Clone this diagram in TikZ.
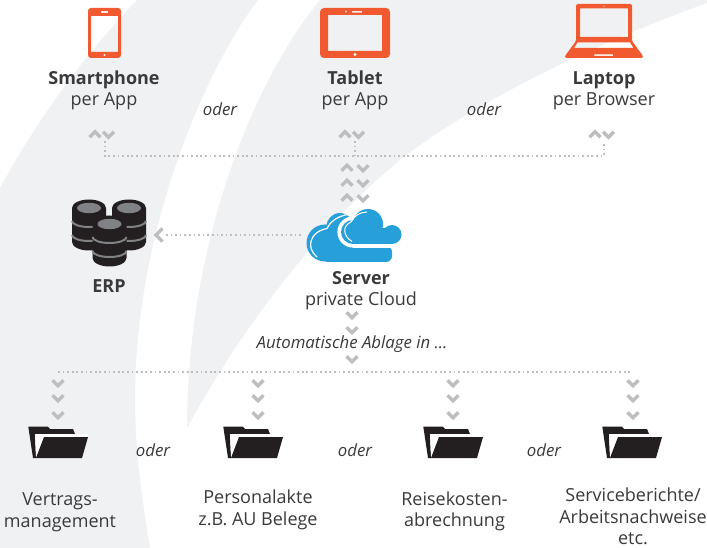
\documentclass[tikz,border=0pt]{standalone}
\usepackage{fontspec}
\setmainfont{Open Sans}
\definecolor{swoosh}{HTML}{F0F1F3}
\definecolor{devorange}{HTML}{F15A31}
\definecolor{cloudblue}{HTML}{27A0D9}
\definecolor{chevgray}{HTML}{BCBEC0}
\definecolor{dbgray}{HTML}{808285}
\definecolor{inkdark}{HTML}{231F20}
\definecolor{inktext}{HTML}{3A3A3C}
\tikzset{
	chevdown/.pic={\draw [chevgray,line width=3.4pt] (-5.5,-2.7) -- (0,2.8) -- (5.5,-2.7);},
	chevup/.pic={\draw [chevgray,line width=3.4pt] (-5.5,2.7) -- (0,-2.8) -- (5.5,2.7);},
	chevleft/.pic={\draw [chevgray,line width=3.4pt] (4.5,-6.5) -- (-2,0) -- (4.5,6.5);},
	folder/.pic={
		\fill [inkdark] (0.3,0.7) -- (20,0.7) -- (22,3) -- (45,3) -- (47,8) -- (7,8) -- (8,32) -- (5,32) -- cycle;
		\fill [white] (7,8) -- (60,8) -- (60,11) -- (16,11) -- (8,30) -- cycle;
		\fill [inkdark] (16,11) -- (60,11) -- (54,32) -- (8,32) -- cycle;
	},
	dbunit/.pic={
		\fill [inkdark] (-17,0) arc [start angle=180,end angle=360,x radius=17,y radius=8.5] -- (17,34) arc [start angle=0,end angle=180,x radius=17,y radius=8.5] -- cycle;
		\fill [dbgray] (0,0) ellipse [x radius=12,y radius=5.2];
		\draw [dbgray,line width=2pt] (-17,13) arc [start angle=180,end angle=0,x radius=17,y radius=6];
		\draw [dbgray,line width=2pt] (-17,27) arc [start angle=180,end angle=0,x radius=17,y radius=6];
	},
}
\begin{document}
\begin{tikzpicture}[
	  x=1pt,y=-1pt,
	  lbl/.style={align=center,text=inktext,font=\fontsize{18}{21.5}\selectfont,inner sep=0pt},
	  oderlbl/.style={text=inktext,font=\fontsize{16.8}{20}\selectfont\itshape,inner sep=0pt},
	  dotline/.style={chevgray,line width=1.7pt,dash pattern=on 1.7pt off 2.9pt},
	  dev/.style={fill=devorange,even odd rule},
	]
	\useasboundingbox (0,0) rectangle (707,548);
	\fill [white] (0,0) rectangle (707,548);

	\fill [swoosh] (137,0) .. controls (85,55) and (40,115) .. (0,188) -- (0,548) -- (150,548) .. controls (142,500) and (135,450) .. (135,400) .. controls (135,230) and (205,70) .. (258,0) -- cycle;
	\fill [swoosh] (320,0) .. controls (250,85) and (187,250) .. (187,428) .. controls (240,330) and (320,225) .. (400,160) .. controls (470,105) and (590,45) .. (707,3) -- (707,0) -- cycle;

	\path [dev,rounded corners=3pt] (88,8) rectangle (121,58) [sharp corners] (91,16) rectangle (118,52) (101,11.2) rectangle (108,12.8) (104.5,55) circle [radius=1.4];
	\path [dev,rounded corners=4pt] (320,8) rectangle (390,58) [sharp corners] (328,15) rectangle (382,51) (352,10.8) rectangle (362,12.6) (346,11.7) circle [radius=1.2] (355,54.5) circle [radius=1.8];
	\path [dev,rounded corners=1.5pt] (576,4) -- (632,4) -- (632,41) -- (643,56) -- (643,58) -- (565,58) -- (565,56) -- (576,41) -- cycle [sharp corners] (580,8.5) rectangle (628,37) (577.5,42.5) -- (630,42.5) -- (633.5,48) -- (574,48) -- cycle (594,54.3) rectangle (613,55.8) (604,6.2) circle [radius=0.9];

	\pic at (89,208) {dbunit};
	\pic at (129,208) {dbunit};
	\pic at (109.5,224) {dbunit};

	\fill [cloudblue] (325,243) circle [radius=18.5];
	\fill [cloudblue] (340,226.5) circle [radius=13.5];
	\fill [cloudblue,rounded corners=6pt] (322,246) rectangle (392,262);
	\fill [cloudblue] (330,232) rectangle (350,250);
	\draw [white,line width=1.2pt] (317,257) .. controls (306,248) and (309,232) .. (327,228.5);
	\draw [white,line width=1.2pt] (327,228.5) .. controls (331,220) and (341,214.5) .. (352,214);
	\foreach \cx/\cy/\cr in {368/224/15,353/232/12,392/234.5/9.5} {
		\fill [white] (\cx,\cy) circle [radius=\cr+3.6];
	}
	\fill [white] (353,236) rectangle (392,248);
	\foreach \cx/\cy/\cr in {368/224/15,353/232/12,392/234.5/9.5} {
		\fill [cloudblue] (\cx,\cy) circle [radius=\cr];
	}
	\fill [cloudblue] (353,228) rectangle (392,244);
	\draw [white,line width=1pt] (352,241.5) .. controls (343,236) and (342,226) .. (351,222);
	\draw [white,line width=1pt] (351,222) .. controls (354,216) and (360,212) .. (367,212);

	\node [lbl] (smartphone) at (104,90.5) {\textbf{Smartphone}\\per App};
	\node [lbl] (tablet) at (355,90.5) {\textbf{Tablet}\\per App};
	\node [lbl] (laptop) at (604,90.5) {\textbf{Laptop}\\per Browser};
	\node [lbl] (erp) at (109,286.5) {\textbf{ERP}};
	\node [lbl] (server) at (361,290.5) {\textbf{Server}\\private Cloud};
	\node [oderlbl] (oderA) at (220,109) {oder};
	\node [oderlbl] (oderB) at (484,109) {oder};
	\node [oderlbl] (oderC) at (153,450) {oder};
	\node [oderlbl] (oderD) at (355,450) {oder};
	\node [oderlbl] (oderE) at (544,450) {oder};
	\node [oderlbl] (ablage) at (352,344) {Automatische Ablage in ...};
	\node [lbl] (vertrag) at (60,512) {Vertrags-\\management};
	\node [lbl] (personal) at (258,510) {Personalakte\\z.B. AU Belege};
	\node [lbl] (reise) at (454.5,511.5) {Reisekosten-\\abrechnung};
	\node [lbl] (service) at (633,516.5) {Serviceberichte/\\Arbeitsnachweise\\etc.};

	\coordinate (phoneEnd) at (105,141);
	\coordinate (phoneBus) at (105,156);
	\coordinate (tabletEnd) at (355,141);
	\coordinate (tabletBus) at (355,156);
	\coordinate (laptopEnd) at (604,141);
	\coordinate (laptopBus) at (604,156);
	\coordinate (cloudEnd) at (301,235);
	\coordinate (erpEnd) at (163,235);
	\coordinate (busL) at (58,372);
	\coordinate (busR) at (633,372);

	\draw [dotline] (phoneEnd) -- (phoneBus) -- (laptopBus) -- (laptopEnd);
	\draw [dotline] (tabletEnd) -- (tabletBus);
	\draw [dotline] (cloudEnd) -- (erpEnd);
	\draw [dotline] (busL) -- (busR);

	\foreach \xc in {95,345,595} {
		\pic at (\xc,134.5) {chevup};
		\pic at (\xc+13.5,134.5) {chevdown};
	}
	\foreach \yc in {168,183,198} {
		\pic at (347,\yc) {chevup};
		\pic at (363,\yc) {chevdown};
	}
	\pic at (158,235) {chevleft};
	\foreach \yc in {315,330,359} {
		\pic at (352,\yc) {chevdown};
	}
	\foreach \xc in {58,258,453,633} {
		\foreach \yc in {383,398,415} {
			\pic at (\xc,\yc) {chevdown};
		}
	}
	\pic at (28,426) {folder};
	\pic at (223,426) {folder};
	\pic at (423,426) {folder};
	\pic at (602,426) {folder};
\end{tikzpicture}
\end{document}
